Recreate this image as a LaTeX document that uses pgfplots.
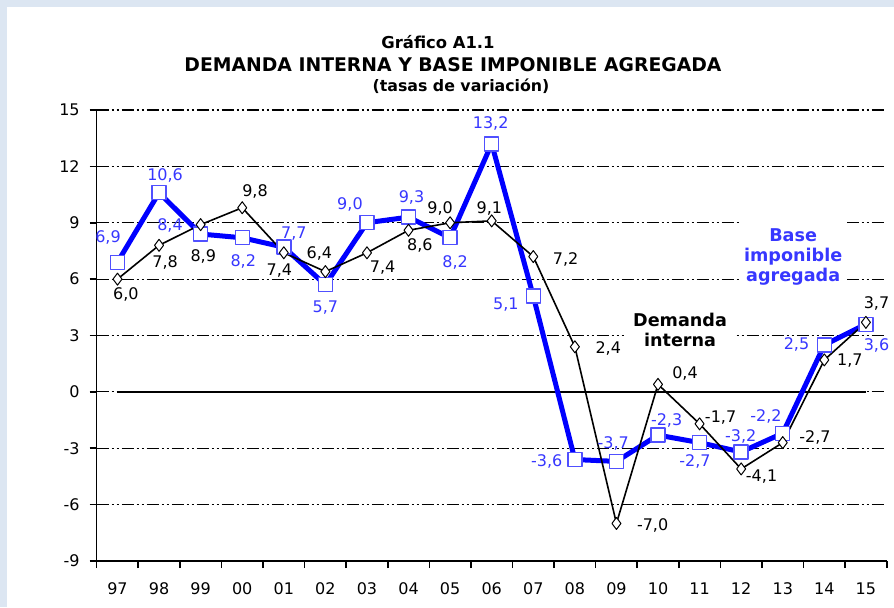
\documentclass[border=0pt]{standalone}
\usepackage{fontspec}
\setmainfont{DejaVu Sans}
\usepackage{pgfplots}
\usepackage{pgfplotstable}
\pgfplotsset{compat=1.18}
\definecolor{bgblue}{RGB}{220,230,242}
\definecolor{lineblue}{RGB}{0,0,255}
\definecolor{labblue}{RGB}{55,55,255}
\definecolor{markblue}{RGB}{80,80,255}

\pgfplotstableread{
x y lab dx dy
0 6.9 6,9 -4.75 12.5
1 10.6 10,6 3 8.8
2 8.4 8,4 -15.3 4.5
3 8.2 8,2 0.5 -12
4 7.7 7,7 5 6.7
5 5.7 5,7 0 -11.5
6 9.0 9,0 -8.5 9.2
7 9.3 9,3 1.5 9.7
8 8.2 8,2 2.5 -12.2
9 13.2 13,2 -0.5 10.3
10 5.1 5,1 -13.7 -4.2
11 -3.6 -3,6 -14.1 -1.1
12 -3.7 -3,7 -1.6 9
13 -2.3 -2,3 4.3 7.2
14 -2.7 -2,7 -2.3 -9.2
15 -3.2 -3,2 -0.25 8
16 -2.2 -2,2 -8.4 8.6
17 2.5 2,5 -13.9 0
18 3.6 3,6 5.3 -10.4
}\baseimp

\pgfplotstableread{
x y lab dx dy
0 6.0 6,0 4.2 -7.5
1 7.8 7,8 3 -8.5
2 8.9 8,9 1.3 -16
3 9.8 9,8 6.4 8.3
4 7.4 7,4 -2.2 -9.1
5 6.4 6,4 -3 9.1
6 7.4 7,4 7.8 -7.4
7 8.6 8,6 5.7 -7.7
8 9.0 9,0 -5 7.2
9 9.1 9,1 -1.2 6.3
10 7.2 7,2 16.2 -1.4
11 2.4 2,4 16.7 -0.8
12 -7.0 -7,0 18.1 -0.8
13 0.4 0,4 13.5 5.5
14 -1.7 -1,7 10.5 3.2
15 -4.1 -4,1 10.2 -3.9
16 -2.7 -2,7 16.1 2.6
17 1.7 1,7 12.8 -0.3
18 3.7 3,7 5.3 9.5
}\demanda

\begin{document}
\begin{tikzpicture}
\path[use as bounding box, fill=bgblue] (0,0) rectangle (447pt,303.5pt);
\fill[white] (3.5pt,0) rectangle (447pt,300pt);
\node[font=\fontsize{8.2}{10}\selectfont\bfseries, inner sep=0pt] at (219pt,282.25pt) {Gráfico A1.1};
\node[font=\fontsize{9.4}{10}\selectfont\bfseries, inner sep=0pt] at (226.5pt,271pt) {DEMANDA INTERNA Y BASE IMPONIBLE AGREGADA};
\node[font=\fontsize{7.9}{10}\selectfont\bfseries, inner sep=0pt] at (230.5pt,260.5pt) {(tasas de variación)};
\begin{axis}[
  at={(48.35pt,23pt)}, anchor=south west,
  scale only axis, width=395pt, height=225.5pt,
  xmin=-0.5, xmax=18.5, ymin=-9, ymax=15,
  axis x line*=bottom, axis y line*=left,
  axis line style={line width=0.8pt, -},
  ytick={-9,-6,-3,0,3,6,9,12,15},
  yticklabels={-9,-6,-3,0,3,6,9,12,15},
  xtick={0,1,...,18},
  xticklabels={97,98,99,00,01,02,03,04,05,06,07,08,09,10,11,12,13,14,15},
  minor xtick={-0.5,0.5,...,18.5},
  minor ytick={-9,-6,-3,0,3,6,9,12,15},
  major tick length=0pt,
  minor tick length=3.5pt,
  tick align=outside,
  tick style={black, line width=0.8pt},
  ymajorgrids,
  major grid style={black, line width=0.6pt, dash pattern=on 6pt off 1.5pt on 1pt off 1.5pt on 1pt off 1.5pt},
  tick label style={font=\fontsize{8}{9}\selectfont},
  yticklabel style={xshift=-5pt},
  xticklabel style={yshift=-7.5pt},
  clip=false,
]
\addplot[black, line width=1pt, forget plot] coordinates {(0,0) (18,0)};
\addplot[lineblue, line width=2.5pt, line join=round,
  mark=square*, mark size=3.5pt,
  mark options={fill=white, draw=markblue, line width=0.7pt},
  nodes near coords, point meta=explicit symbolic,
  visualization depends on={\thisrow{dx} \as \myDx},
  visualization depends on={\thisrow{dy} \as \myDy},
  nodes near coords style={anchor=center, inner sep=0pt, xshift=\myDx pt, yshift=\myDy pt, text=labblue, font=\fontsize{8}{9}\selectfont},
] table[x=x, y=y, meta=lab] {\baseimp};
\addplot[black, line width=0.8pt, line join=round,
  mark=diamond*, mark size=3pt,
  mark options={fill=white, draw=black, line width=0.5pt},
  nodes near coords, point meta=explicit symbolic,
  visualization depends on={\thisrow{dx} \as \myDx},
  visualization depends on={\thisrow{dy} \as \myDy},
  nodes near coords style={anchor=center, inner sep=0pt, xshift=\myDx pt, yshift=\myDy pt, text=black, font=\fontsize{8}{9}\selectfont},
] table[x=x, y=y, meta=lab] {\demanda};
\node[fill=white, inner xsep=4.5pt, inner ysep=1.5pt, align=center, font=\fontsize{8.8}{10}\selectfont\bfseries] at (axis cs:13.53,3.29) {Demanda\\interna};
\node[fill=white, text=labblue, inner xsep=2.5pt, inner ysep=3pt, align=center, font=\fontsize{8.8}{10}\selectfont\bfseries] at (axis cs:16.25,7.2) {Base\\imponible\\agregada};
\end{axis}
\end{tikzpicture}
\end{document}
